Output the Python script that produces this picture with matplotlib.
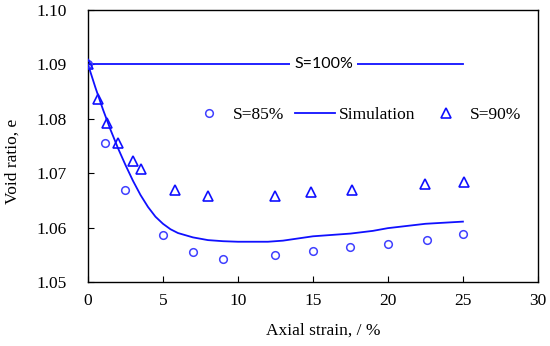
import numpy as np
import matplotlib.pyplot as plt

plt.rcParams['font.family'] = ['Liberation Serif', 'DejaVu Serif']

# S=85% test points
s85_x = [0, 1.15, 2.5, 5.0, 7.0, 9.0, 12.5, 15.0, 17.5, 20.0, 22.6, 25.0]
s85_y = [1.0900, 1.0755, 1.0669, 1.0586, 1.0555, 1.0543, 1.0550, 1.0557, 1.0564, 1.0570, 1.0577, 1.0588]

# S=90% test points
s90_x = [0, 0.7, 1.3, 2.0, 3.0, 3.55, 5.8, 8.0, 12.5, 14.9, 17.6, 22.5, 25.1]
s90_y = [1.0900, 1.0836, 1.0792, 1.0755, 1.0722, 1.0707, 1.0669, 1.0658, 1.0658, 1.0665, 1.0669, 1.0681, 1.0684]

# simulation curve
sim_x = [0, 0.5, 1.0, 1.5, 2.0, 2.5, 3.0, 3.5, 4.0, 4.5, 5.0, 5.5, 6.0, 7.0, 8.0, 9.0, 10.0,
         12.0, 13.0, 14.0, 15.0, 17.5, 19.0, 20.0, 22.5, 25.0]
sim_y = [1.0900, 1.0857, 1.0817, 1.0780, 1.0746, 1.0715, 1.0686, 1.0660, 1.0638, 1.0620, 1.0607,
         1.0597, 1.0590, 1.0582, 1.0577, 1.0575, 1.0574, 1.0574, 1.0576, 1.0580, 1.0584, 1.0589,
         1.0594, 1.0599, 1.0607, 1.0611]

# S=100% line
s100_x = [0, 25]
s100_y = [1.09, 1.09]

fs = 12.5

fig = plt.figure(figsize=(5.5, 3.46), dpi=100)
ax = fig.add_axes([0.16, 0.185, 0.818, 0.786])

ax.plot(s100_x, s100_y, color='#1010ff', lw=1.3, zorder=2)
ax.text(15.7, 1.09, 'S=100%', family='Lato', fontsize=11.5, ha='center', va='center',
        bbox=dict(facecolor='white', edgecolor='none', pad=3), zorder=3)

ax.plot(s85_x, s85_y, 'o', ls='none', mfc='none', mec='#4040ff', mew=1.1, ms=5.5, label='S=85%', zorder=4)
ax.plot(sim_x, sim_y, color='#1010ff', lw=1.3, label='Simulation', zorder=3)
ax.plot(s90_x, s90_y, '^', ls='none', mfc='none', mec='#1010ff', mew=1.2, ms=7, label='S=90%', zorder=4)

ax.set_xlim(0, 30)
ax.set_ylim(1.05, 1.10)
ax.set_xticks(np.arange(0, 31, 5))
ax.set_yticks(np.arange(1.05, 1.101, 0.01))
ax.set_yticklabels(['1.05', '1.06', '1.07', '1.08', '1.09', '1.10'])
ax.tick_params(direction='in', labelsize=fs, length=4)
ax.tick_params(axis='y', pad=15)
ax.tick_params(axis='x', pad=8)
for sp in ax.spines.values():
    sp.set_linewidth(1.0)

ax.set_xlabel('Axial strain, / %', fontsize=fs)
ax.set_ylabel('Void ratio, e', fontsize=fs)
ax.xaxis.set_label_coords(0.524, -0.15)
ax.yaxis.set_label_coords(-0.15, 0.445)

ax.legend(loc='center left', bbox_to_anchor=(0.224, 0.615), ncol=3, frameon=False,
          fontsize=fs, handlelength=2.3, columnspacing=0.6, handletextpad=0.25,
          borderaxespad=0, borderpad=0)

fig.savefig('out.png', dpi=100)
